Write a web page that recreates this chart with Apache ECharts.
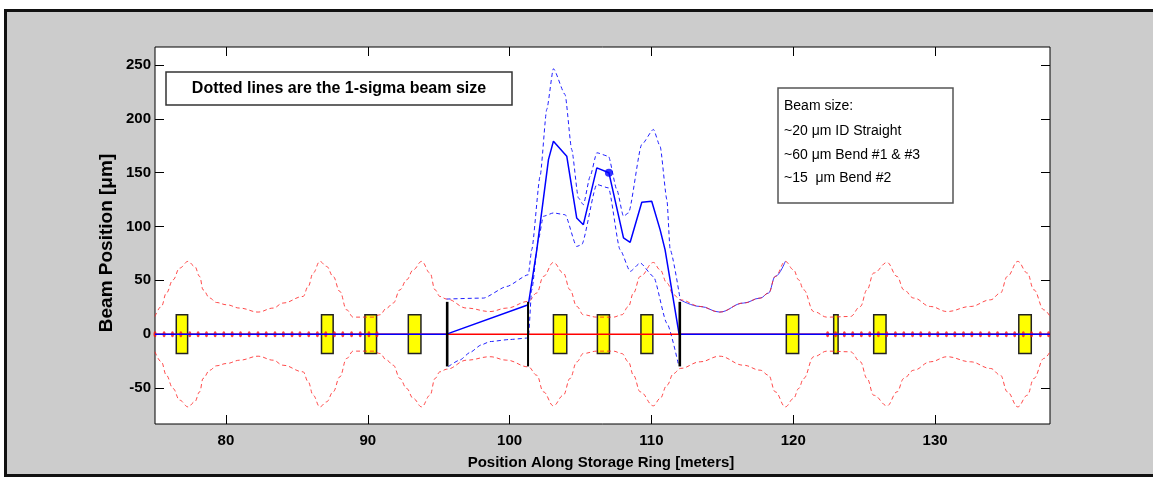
<!DOCTYPE html>
<html>
<head>
<meta charset="utf-8">
<script src="https://cdn.jsdelivr.net/npm/echarts@6/dist/echarts.min.js"></script>
<style>
  html, body { margin: 0; padding: 0; background: #ffffff; width: 1153px; height: 477px; overflow: hidden; }
  #frame { position: absolute; left: 4px; top: 9px; width: 1200px; height: 468px; box-sizing: border-box;
           border: 3px solid #111; background: #cccccc; }
  #chart { position: absolute; left: 0; top: 0; width: 1153px; height: 477px; }
</style>
</head>
<body>
<div id="frame"></div>
<div id="chart"></div>
<script>
// Axis ticks
const xTicks = [80, 90, 100, 110, 120, 130];
const yTicks = [-50, 0, 50, 100, 150, 200, 250];

// Nominal 1-sigma beam envelope around the design orbit [position m, size um]
const envelope = [
  [75.0, 16.4], [75.45, 25.7], [75.8, 38.2], [76.27, 50.5], [76.74, 61.4], [77.33, 67.6],
  [77.8, 62.9], [78.15, 53.6], [78.39, 41.2], [78.86, 33.5], [79.33, 29.4], [80.04, 27.3],
  [80.98, 24.2], [82.27, 20.5], [83.33, 24.2], [84.03, 28.9], [85.44, 35.0], [85.8, 44.3],
  [86.15, 56.8], [86.62, 67.6], [87.1, 62.9], [87.56, 53.6], [88.03, 39.7], [88.51, 22.6],
  [88.97, 15.8], [90.38, 15.8], [90.86, 18.0], [91.33, 24.2], [91.8, 28.9], [92.27, 41.2],
  [92.74, 50.5], [93.21, 59.8], [93.8, 67.6], [94.39, 56.8], [94.74, 41.2], [95.09, 35.0],
  [95.56, 32.6], [96.98, 24.2], [98.62, 21.0], [99.8, 24.2], [101.32, 30.4], [101.92, 38.2],
  [102.38, 53.6], [103.09, 66.6], [103.79, 56.8], [104.26, 41.2], [104.74, 25.7], [105.2, 18.0],
  [106.15, 15.8], [107.32, 15.8], [107.91, 18.0], [108.38, 25.7], [108.73, 38.2], [109.21, 53.6],
  [110.14, 66.6], [110.61, 59.8], [111.09, 47.5], [111.56, 36.6], [112.03, 31.9], [113.44, 25.7],
  [114.8, 20.5], [116.5, 28.9], [117.67, 33.5], [118.26, 38.2], [118.73, 53.6], [119.44, 67.6],
  [120.02, 59.8], [120.38, 50.5], [120.73, 41.2], [121.44, 21.0], [122.38, 15.8], [124.03, 16.4],
  [124.73, 25.7], [125.2, 41.2], [125.67, 56.8], [126.62, 66.6], [127.32, 53.6], [127.79, 41.2],
  [128.49, 33.5], [129.67, 25.7], [130.85, 21.0], [132.49, 25.7], [133.91, 31.9], [134.61, 38.2],
  [135.09, 53.6], [135.83, 67.6], [136.5, 56.8], [136.96, 41.2], [137.67, 22.6], [138.1, 16.4]
];

// Measured beam orbit through the bump [position m, um]
const orbit = [
  [75.0, 0], [95.56, 0], [101.32, 27.3], [101.92, 78.5], [102.74, 162.2], [103.09, 179.3],
  [104.03, 165.3], [104.73, 108], [105.2, 101.7], [106.15, 154.5], [107.0, 150], [108.03, 89.4],
  [108.5, 85.3], [109.32, 122.5], [110.02, 123.4], [110.61, 97.1], [110.96, 78.5], [111.95, 0],
  [138.1, 0]
];

// Orbit + 1 sigma
const orbitUpper = [
  [95.56, 32.6], [98.15, 33.5], [99.8, 44.3], [101.32, 55.2], [101.56, 78.5], [102.15, 146.7],
  [102.62, 208.8], [103.09, 246.6], [103.91, 222.7], [104.38, 171.5], [104.85, 126.6], [105.2, 120.3],
  [105.68, 146.7], [106.15, 168.5], [106.97, 165.3], [107.56, 134.3], [108.03, 109.5], [108.38, 112.6],
  [109.32, 176.2], [110.14, 190.2], [110.61, 174.6], [111.09, 125], [111.32, 78.5], [112.03, 31.9]
];

// Orbit - 1 sigma
const orbitLower = [
  [95.68, -30.2], [96.5, -24], [97.21, -17], [98.0, -10], [98.62, -6.9], [100.0, -5], [101.32, -3.6],
  [101.56, 41.2], [102.03, 87.8], [102.38, 109.5], [103.09, 112.6], [103.91, 111], [104.73, 81.5],
  [105.08, 83.1], [106.15, 139], [106.97, 135.9], [107.79, 78.5], [108.5, 58.3], [109.21, 66.1],
  [110.14, 53.6], [111.09, 10.2], [111.91, -28.6]
];

// Highlighted orbit reading
const orbitPoint = [[107.0, 150]];

// Beam position monitors along the two arcs
const bpms = [
  75.0, 75.64, 76.23, 76.82, 77.45, 78.04, 78.63, 79.24, 79.85, 80.44, 81.03, 81.64, 82.26, 82.84,
  83.46, 84.05, 84.66, 85.22, 85.84, 86.45, 87.04, 87.65, 88.24, 88.86, 89.47, 90.08, 90.65,
  122.42, 122.98, 123.6, 124.19, 124.8, 125.39, 126.0, 126.59, 127.2, 127.79, 128.41, 128.99,
  129.6, 130.19, 130.8, 131.39, 132.0, 132.59, 133.2, 133.81, 134.4, 135.02, 135.61, 136.22,
  136.8, 137.42, 138.0
];

// Magnet extents [start m, end m] and their drawn half-height (um scale)
const magnets = [
  [76.5, 77.3], [86.74, 87.56], [89.8, 90.62], [92.86, 93.75], [103.09, 104.03], [106.19, 107.04],
  [109.26, 110.1], [119.51, 120.38], [122.85, 123.16], [125.67, 126.54], [135.9, 136.78]
];
const magnetHalf = 18;

// Corrector (kicker) positions [m] and half-height
const kickers = [95.6, 101.3, 112.0];
const kickerHalf = 30;

const FONT = '"Liberation Sans", Arial, sans-serif';

const chart = echarts.init(document.getElementById('chart'), null, { renderer: 'canvas' });

const tailUpper = envelope.filter(p => p[0] >= 111.9 && p[0] <= 119.5);

const baseX = { type: 'value', min: 75, max: 138.1, splitLine: { show: false },
                axisLine: { show: false, onZero: false } };
const baseY = { type: 'value', min: -83.5, max: 266.8, splitLine: { show: false },
                axisLine: { show: false, onZero: false } };
const tickStyle = { color: '#000', width: 1 };

chart.setOption({
  animation: false,
  backgroundColor: 'transparent',
  grid: { left: 155, top: 47, right: 103, bottom: 53, show: true, backgroundColor: '#ffffff',
          borderColor: '#000000', borderWidth: 1 },
  xAxis: [
    Object.assign({}, baseX, {
      position: 'bottom',
      axisTick: { inside: true, length: 9, lineStyle: tickStyle, customValues: xTicks },
      axisLabel: { customValues: xTicks, color: '#000', fontFamily: FONT, fontWeight: 'bold', fontSize: 15, margin: 9 }
    }),
    Object.assign({}, baseX, {
      position: 'top',
      axisTick: { inside: true, length: 9, lineStyle: tickStyle, customValues: xTicks },
      axisLabel: { show: false }
    })
  ],
  yAxis: [
    Object.assign({}, baseY, {
      position: 'left',
      axisTick: { inside: true, length: 9, lineStyle: tickStyle, customValues: yTicks },
      axisLabel: { customValues: yTicks, color: '#000', fontFamily: FONT, fontWeight: 'bold', fontSize: 15, margin: 4 }
    }),
    Object.assign({}, baseY, {
      position: 'right',
      axisTick: { inside: true, length: 9, lineStyle: tickStyle, customValues: yTicks },
      axisLabel: { show: false }
    })
  ],
  series: [
    {
      name: 'magnets', type: 'custom', z: 1,
      data: magnets.map(m => [m[0], m[1], magnetHalf, -magnetHalf]),
      encode: { x: [0, 1], y: [2, 3] },
      renderItem: function (params, api) {
        const p0 = api.coord([api.value(0), api.value(2)]);
        const p1 = api.coord([api.value(1), api.value(3)]);
        return { type: 'rect',
                 shape: { x: p0[0], y: p0[1], width: p1[0] - p0[0], height: p1[1] - p0[1] },
                 style: { fill: '#ffff00', stroke: '#222222', lineWidth: 1.5 } };
      }
    },
    {
      name: 'orbit tail', type: 'line', z: 3, data: tailUpper, smooth: 0.4, smoothMonotone: 'x',
      showSymbol: false, lineStyle: { color: '#3a3aff', width: 1 }
    },
    {
      name: 'envelope +', type: 'line', z: 4, data: envelope, smooth: 0.4, smoothMonotone: 'x',
      showSymbol: false, lineStyle: { color: '#ff2a2a', width: 1, type: [4, 3], opacity: 0.85 }
    },
    {
      name: 'envelope -', type: 'line', z: 4, data: envelope.map(p => [p[0], -p[1]]), smooth: 0.4,
      smoothMonotone: 'x', showSymbol: false,
      lineStyle: { color: '#ff2a2a', width: 1, type: [4, 3], opacity: 0.85 }
    },
    {
      name: 'orbit + sigma', type: 'line', z: 5, data: orbitUpper, smooth: 0.2, smoothMonotone: 'x',
      showSymbol: false, lineStyle: { color: '#2020ff', width: 1, type: [4, 3] }
    },
    {
      name: 'orbit - sigma', type: 'line', z: 5, data: orbitLower, smooth: 0.2, smoothMonotone: 'x',
      showSymbol: false, lineStyle: { color: '#2020ff', width: 1, type: [4, 3] }
    },
    {
      name: 'design orbit', type: 'line', z: 6, data: [[75, 0], [138.1, 0]], showSymbol: false,
      lineStyle: { color: '#ff0000', width: 1.5 }
    },
    {
      name: 'BPM', type: 'scatter', z: 7, data: bpms.map(x => [x, 0]), symbol: 'circle',
      symbolSize: [3, 6], itemStyle: { color: '#ff1010' }
    },
    {
      name: 'orbit', type: 'line', z: 8, data: orbit, showSymbol: false,
      lineStyle: { color: '#0000ff', width: 1.5 }
    },
    {
      name: 'reading', type: 'scatter', z: 9, data: orbitPoint, symbol: 'circle', symbolSize: 8,
      itemStyle: { color: '#0000ff' }
    },
    {
      name: 'kickers', type: 'custom', z: 10,
      data: kickers.map(k => [k, kickerHalf, -kickerHalf]),
      encode: { x: 0, y: [1, 2] },
      renderItem: function (params, api) {
        const p0 = api.coord([api.value(0), api.value(1)]);
        const p1 = api.coord([api.value(0), api.value(2)]);
        const w = params.dataIndex === 1 ? 2 : 2.6;
        return { type: 'rect', shape: { x: p0[0] - w / 2, y: p0[1], width: w, height: p1[1] - p0[1] },
                 style: { fill: '#000000' } };
      }
    }
  ],
  graphic: [
    { type: 'text', x: 107, y: 243, rotation: Math.PI / 2,
      style: { text: 'Beam Position [\u03bcm]', font: 'bold 19px ' + FONT, fill: '#000',
               align: 'center', verticalAlign: 'middle' } },
    { type: 'text', x: 601, y: 463,
      style: { text: 'Position Along Storage Ring [meters]', font: 'bold 15px ' + FONT, fill: '#000',
               align: 'center', verticalAlign: 'middle' } },
    { type: 'rect', shape: { x: 166, y: 72, width: 346, height: 33 },
      style: { fill: '#ffffff', stroke: '#333333', lineWidth: 1.5 } },
    { type: 'text', x: 339, y: 89,
      style: { text: 'Dotted lines are the 1-sigma beam size', font: 'bold 16px ' + FONT, fill: '#000',
               align: 'center', verticalAlign: 'middle' } },
    { type: 'rect', shape: { x: 778, y: 88, width: 175, height: 115 },
      style: { fill: '#ffffff', stroke: '#555555', lineWidth: 1.5 } },
    { type: 'text', x: 784, y: 106,
      style: { text: 'Beam size:', font: '14px ' + FONT, fill: '#000', align: 'left', verticalAlign: 'middle' } },
    { type: 'text', x: 784, y: 131,
      style: { text: '~20 \u03bcm ID Straight', font: '14px ' + FONT, fill: '#000', align: 'left', verticalAlign: 'middle' } },
    { type: 'text', x: 784, y: 155,
      style: { text: '~60 \u03bcm Bend #1 & #3', font: '14px ' + FONT, fill: '#000', align: 'left', verticalAlign: 'middle' } },
    { type: 'text', x: 784, y: 178,
      style: { text: '~15  \u03bcm Bend #2', font: '14px ' + FONT, fill: '#000', align: 'left', verticalAlign: 'middle' } }
  ]
});
</script>
</body>
</html>
